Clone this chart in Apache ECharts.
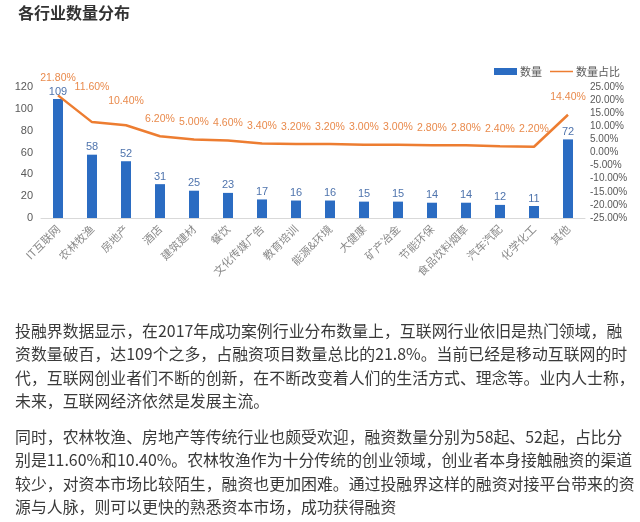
<!DOCTYPE html>
<html>
<head>
<meta charset="utf-8">
<script src="https://cdn.jsdelivr.net/npm/echarts@6/dist/echarts.min.js"></script>
<style>
html,body{margin:0;padding:0;background:#fff;}
#c{width:640px;height:522px;}
</style>
</head>
<body>
<div id="c"></div>
<script>
var categories = ['IT互联网','农林牧渔','房地产','酒店','建筑建材','餐饮','文化传媒广告','教育培训','能源&环境','大健康','矿产冶金','节能环保','食品饮料烟草','汽车汽配','化学化工','其他'];
var counts = [109,58,52,31,25,23,17,16,16,15,15,14,14,12,11,72];
var shares = [21.8,11.6,10.4,6.2,5.0,4.6,3.4,3.2,3.2,3.0,3.0,2.8,2.8,2.4,2.2,14.4];
var leftTicks = {min:0, max:120, interval:20};
var rightTicks = {min:-25, max:25, interval:5};
var seriesNames = ['数量','数量占比'];
var titleText = '各行业数量分布';
var para1 = [
  '投融界数据显示，在2017年成功案例行业分布数量上，互联网行业依旧是热门领域，融',
  '资数量破百，达109个之多，占融资项目数量总比的21.8%。当前已经是移动互联网的时',
  '代，互联网创业者们不断的创新，在不断改变着人们的生活方式、理念等。业内人士称，',
  '未来，互联网经济依然是发展主流。'
];
var para2 = [
  '同时，农林牧渔、房地产等传统行业也颇受欢迎，融资数量分别为58起、52起，占比分',
  '别是11.60%和10.40%。农林牧渔作为十分传统的创业领域，创业者本身接触融资的渠道',
  '较少，对资本市场比较陌生，融资也更加困难。通过投融界这样的融资对接平台带来的资',
  '源与人脉，则可以更快的熟悉资本市场，成功获得融资'
];

var chart = echarts.init(document.getElementById('c'), null, {renderer:'canvas'});
var font = '"Noto Sans CJK SC","Microsoft YaHei",sans-serif';
var numFont = '"Liberation Sans",Arial,sans-serif';
// extra lift of a few line labels, as placed in the reference
var labelLift = {1:17, 2:7};
var option = {
  backgroundColor:'#fff',
  animation:false,
  textStyle:{fontFamily:font},
  title:{text:titleText,left:13,top:0,textStyle:{fontSize:16,fontWeight:'bold',color:'#333',fontFamily:font}},
  legend:{
    right:15, top:61, itemWidth:23, itemHeight:7, itemGap:8,
    textStyle:{fontSize:11,color:'#595959',fontFamily:font,padding:[0,0,0,-2]},
    data:[{name:seriesNames[0],icon:'rect'},
          {name:seriesNames[1],icon:'path://M0,0 L0.1,0 M0,2.6 L24,2.6 L24,4.4 L0,4.4 Z M0,7 L0.1,7'}]
  },
  grid:{left:41,right:55,top:87,bottom:304},
  xAxis:{
    type:'category', data:categories,
    axisLine:{lineStyle:{color:'#d9d9d9'}},
    axisTick:{show:false},
    axisLabel:{interval:0,rotate:45,fontSize:11,color:'#8a8a8a',margin:9,fontFamily:font}
  },
  yAxis:[
    {type:'value',min:leftTicks.min,max:leftTicks.max,interval:leftTicks.interval,
     splitLine:{show:false},axisLine:{show:false},axisTick:{show:false},
     axisLabel:{fontSize:11,color:'#595959',margin:8,fontFamily:numFont}},
    {type:'value',min:rightTicks.min,max:rightTicks.max,interval:rightTicks.interval,
     splitLine:{show:false},axisLine:{show:false},axisTick:{show:false},
     axisLabel:{fontSize:10,color:'#595959',margin:5,fontFamily:numFont,formatter:function(v){return v.toFixed(2)+'%';}}}
  ],
  series:[
    {name:seriesNames[0],type:'bar',data:counts,barWidth:10,
     itemStyle:{color:'#2b6cc2'},
     label:{show:true,position:'top',distance:2,fontSize:11,color:'#4f74ad',fontFamily:numFont}},
    {name:seriesNames[1],type:'line',yAxisIndex:1,data:shares,
     symbol:'circle',symbolSize:0.01,showSymbol:true,
     lineStyle:{color:'#ed7d31',width:2.5},itemStyle:{color:'#ed7d31'},
     label:{show:true,position:'top',distance:12,fontSize:10.5,color:'#e98a4c',fontFamily:numFont,
       formatter:function(p){return p.value.toFixed(2)+'%';}},
     labelLayout:function(p){
       return {hideOverlap:false, dy:-(labelLift[p.dataIndex] || 0)};
     },
     z:5}
  ],
  graphic:[
    {type:'text',left:15,top:319,style:{text:para1.join('\n'),fontSize:15.9,lineHeight:23.5,fill:'#3a3a3a',fontFamily:font}},
    {type:'text',left:15,top:425,style:{text:para2.join('\n'),fontSize:15.9,lineHeight:23.5,fill:'#3a3a3a',fontFamily:font}}
  ]
};
chart.setOption(option);
</script>
</body>
</html>
